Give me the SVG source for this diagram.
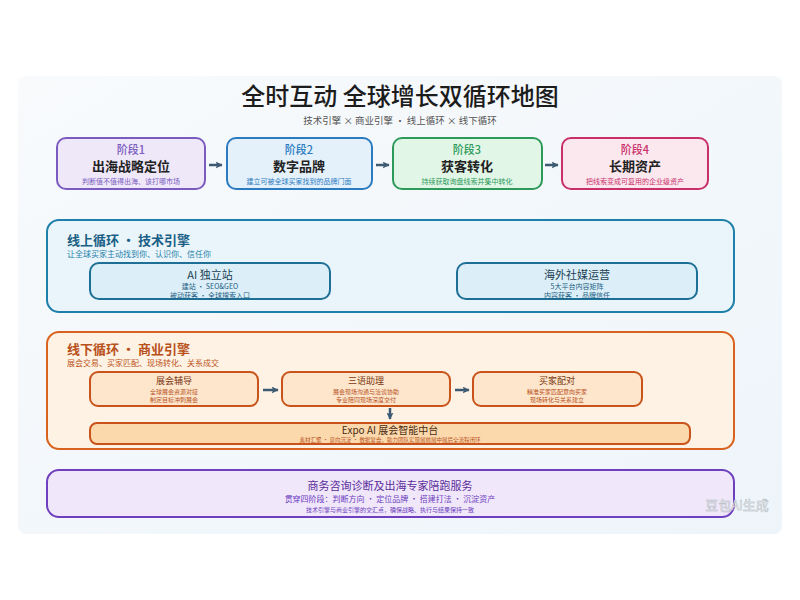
<svg xmlns="http://www.w3.org/2000/svg" width="800" height="600" viewBox="0 0 800 600">
<defs>
<linearGradient id="bg" x1="0" y1="0" x2="1" y2="1">
<stop offset="0" stop-color="#f8fafc"/><stop offset="1" stop-color="#eef5fa"/>
</linearGradient>
<marker id="ah" viewBox="0 0 10 10" refX="9" refY="5" markerWidth="7" markerHeight="7" markerUnits="userSpaceOnUse" orient="auto">
<path d="M0,0 L10,5 L0,10 L2,5 z" fill="#3d5a73"/>
</marker>
</defs>
<style>
text{font-family:"Noto Sans CJK SC","Noto Sans",sans-serif;text-anchor:middle}
.title{font-size:24px;font-weight:500;fill:#1c1c1c}
.sub{font-size:9.5px;fill:#555}
.stg{stroke-width:2}
.st1{font-size:11px;font-weight:500}
.st2{font-size:13px;font-weight:bold;fill:#222}
.st3{font-size:7px}
.conn{stroke:#3d5a73;stroke-width:2.5;fill:none;marker-end:url(#ah)}
.left{text-anchor:start}
</style>
<rect x="18" y="76" width="764" height="458" rx="8" fill="url(#bg)"/>
<text class="title" x="400" y="105">全时互动 全球增长双循环地图</text>
<text class="sub" x="400" y="124">技术引擎 × 商业引擎 · 线上循环 × 线下循环</text>

<g id="stage1">
<rect class="stg" x="57" y="138" width="148" height="51" rx="9" fill="#efe8f8" stroke="#7a5cc0"/>
<text class="st1" x="131" y="154" fill="#7a5cc0">阶段1</text>
<text class="st2" x="131" y="171">出海战略定位</text>
<text class="st3" x="131" y="184" fill="#7a5cc0">判断值不值得出海、该打哪市场</text>
</g>
<g id="stage2">
<rect class="stg" x="227" y="138" width="145" height="51" rx="9" fill="#e4f0fa" stroke="#2a7bbf"/>
<text class="st1" x="299" y="154" fill="#2a7bbf">阶段2</text>
<text class="st2" x="299" y="171">数字品牌</text>
<text class="st3" x="299" y="184" fill="#2a7bbf">建立可被全球买家找到的品牌门面</text>
</g>
<g id="stage3">
<rect class="stg" x="393" y="138" width="149" height="51" rx="9" fill="#e2f6e8" stroke="#2e9a5a"/>
<text class="st1" x="467" y="154" fill="#2e9a5a">阶段3</text>
<text class="st2" x="467" y="171">获客转化</text>
<text class="st3" x="467" y="184" fill="#2e9a5a">持续获取询盘线索并集中转化</text>
</g>
<g id="stage4">
<rect class="stg" x="562" y="138" width="146" height="51" rx="9" fill="#fbe8ef" stroke="#c9306a"/>
<text class="st1" x="635" y="154" fill="#c9306a">阶段4</text>
<text class="st2" x="635" y="171">长期资产</text>
<text class="st3" x="635" y="184" fill="#c9306a">把线索变成可复用的企业级资产</text>
</g>

<g id="online">
<rect x="47" y="220" width="687" height="92" rx="12" fill="#eaf5fb" stroke="#1e7fa8" stroke-width="2"/>
<text class="left" x="67" y="245" font-size="13" font-weight="bold" fill="#1a5f85">线上循环 · 技术引擎</text>
<text class="left" x="67" y="257" font-size="8" fill="#1e7fa8">让全球买家主动找到你、认识你、信任你</text>
</g>
<g id="site">
<rect x="90" y="263" width="240" height="36" rx="9" fill="#dcefF8" stroke="#1e6f95" stroke-width="2"/>
<text x="210" y="279" font-size="11" fill="#1a3f55">AI 独立站</text>
<text x="210" y="289" font-size="7" fill="#1e5f85">建站 • SEO&amp;GEO</text>
<text x="210" y="297.5" font-size="7" fill="#1e5f85">被动获客 · 全球搜索入口</text>
</g>
<g id="social">
<rect x="457" y="263" width="240" height="36" rx="9" fill="#dcefF8" stroke="#1e6f95" stroke-width="2"/>
<text x="577" y="279" font-size="11" fill="#1a3f55">海外社媒运营</text>
<text x="577" y="289" font-size="7" fill="#1e5f85">5大平台内容矩阵</text>
<text x="577" y="297.5" font-size="7" fill="#1e5f85">内容获客 · 品牌信任</text>
</g>

<g id="offline">
<rect x="47" y="332" width="687" height="117" rx="12" fill="#fdf2e4" stroke="#d9621e" stroke-width="2"/>
<text class="left" x="67" y="354" font-size="13" font-weight="bold" fill="#b8501a">线下循环 · 商业引擎</text>
<text class="left" x="67" y="366" font-size="8" fill="#c0561c">展会交易、买家匹配、现场转化、关系成交</text>
</g>
<g id="coach">
<rect x="90" y="372" width="168" height="34" rx="8" fill="#fde6cc" stroke="#c9531a" stroke-width="2"/>
<text x="174" y="384" font-size="9" fill="#7a3510">展会辅导</text>
<text x="174" y="394" font-size="6" fill="#b8501a">全球展会资源对接</text>
<text x="174" y="402" font-size="6" fill="#b8501a">制定目标冲刺展会</text>
</g>
<g id="assistant">
<rect x="282" y="372" width="168" height="34" rx="8" fill="#fde6cc" stroke="#c9531a" stroke-width="2"/>
<text x="366" y="384" font-size="9" fill="#7a3510">三语助理</text>
<text x="366" y="394" font-size="6" fill="#b8501a">展会现场沟通与洽谈协助</text>
<text x="366" y="402" font-size="6" fill="#b8501a">专业陪同现场深度交付</text>
</g>
<g id="match">
<rect x="473" y="372" width="169" height="34" rx="8" fill="#fde6cc" stroke="#c9531a" stroke-width="2"/>
<text x="557" y="384" font-size="9" fill="#7a3510">买家配对</text>
<text x="557" y="394" font-size="6" fill="#b8501a">精准买家匹配意向买家</text>
<text x="557" y="402" font-size="6" fill="#b8501a">现场转化与关系建立</text>
</g>
<g id="expo">
<rect x="90" y="423" width="600" height="21" rx="7" fill="#fbd9ad" stroke="#c9531a" stroke-width="2"/>
<text x="390" y="434" font-size="10" fill="#4a2a10">Expo AI 展会智能中台</text>
<text x="390" y="441.5" font-size="5.5" fill="#b8501a">素材汇聚 · 意向沉淀 · 数据复盘，助力团队实现展前展中展后全流程闭环</text>
</g>

<g id="service">
<rect x="47" y="470" width="687" height="47" rx="12" fill="#f0e7fa" stroke="#6e40bf" stroke-width="2"/>
<text x="390" y="490" font-size="11" fill="#5b2d9a">商务咨询诊断及出海专家陪跑服务</text>
<text x="390" y="502" font-size="8" fill="#6e40bf">贯穿四阶段：判断方向 · 定位品牌 · 搭建打法 · 沉淀资产</text>
<text x="390" y="512" font-size="6" fill="#6e40bf">技术引擎与商业引擎的交汇点，确保战略、执行与结果保持一致</text>
</g>

<g id="connectors">
<line class="conn" x1="209" y1="165" x2="222" y2="165"/>
<line class="conn" x1="376" y1="165" x2="389" y2="165"/>
<line class="conn" x1="545" y1="165" x2="558" y2="165"/>
<line class="conn" x1="263" y1="390" x2="278" y2="390"/>
<line class="conn" x1="455" y1="390" x2="469" y2="390"/>
<line class="conn" x1="390" y1="408" x2="390" y2="419"/>
</g>

<text x="737" y="510" font-size="13" fill="#ffffff" fill-opacity="0.85" stroke="#b0b8c0" stroke-width="0.5">豆包AI生成</text>
</svg>
